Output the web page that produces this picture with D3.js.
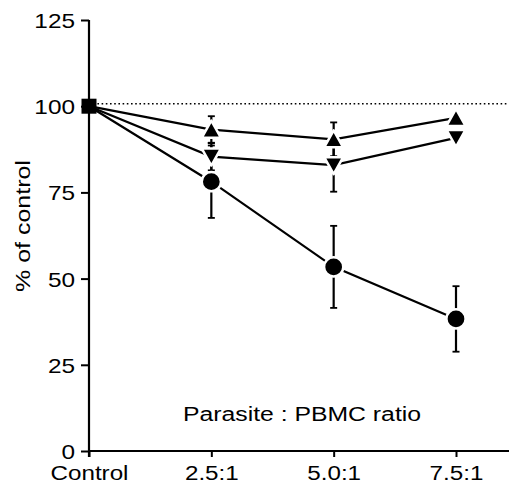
<!DOCTYPE html>
<html>
<head>
<meta charset="utf-8">
<script src="https://cdn.jsdelivr.net/npm/d3@7"></script>
<style>
  body { margin: 0; background: #fff; }
  svg text { font-family: "Liberation Sans", Arial, sans-serif; fill: #000; }
</style>
</head>
<body>
<script>
// ratios on the x axis
const categories = ["Control", "2.5:1", "5.0:1", "7.5:1"]
const yTicks = [0, 25, 50, 75, 100, 125]
const refLine = 100.7

// % of control for each marker series, plus error bar half-widths
const circleVals = [100, 78.1, 53.4, 38.3]
const circleErr  = [0, 10.5, 11.9, 9.5]
const upVals     = [100, 93.2, 90.4, 96.6]
const upErr      = [0, 3.9, 4.9, 0]
const downVals   = [100, 85.4, 82.9, 90.8]
const downErr    = [0, 4.0, 7.7, 0]

const width = 509, height = 484

const svg = d3.select('body').append('svg')
    .attr('width', width)
    .attr('height', height)

// the original type is a wide face, so stretch the text a bit
function widen(sel, k) {
    sel.each(function() {
        const w = this.getComputedTextLength()
        d3.select(this).attr('textLength', w * k).attr('lengthAdjust', 'spacingAndGlyphs')
    })
}

const xScale = d3.scalePoint()
    .domain(categories)
    .range([89, 456])

const yScale = d3.scaleLinear()
    .domain([0, 125])
    .range([451, 20])

// dotted 100% line
svg.append('line')
    .attr('x1', xScale('Control')).attr('x2', width)
    .attr('y1', yScale(refLine)).attr('y2', yScale(refLine))
    .attr('stroke', '#000')
    .attr('stroke-width', 1.6)
    .attr('stroke-dasharray', '1.6,2.6')

// y axis
const yAxis = svg.append('g')
    .attr('transform', 'translate(' + xScale('Control') + ',0)')
    .call(d3.axisLeft(yScale).tickValues(yTicks).tickSize(8).tickSizeOuter(0).tickPadding(6))
yAxis.select('.domain').remove()
yAxis.selectAll('line').attr('stroke-width', 2)
yAxis.selectAll('text').attr('font-size', '21px').attr('dy', '0.36em').call(widen, 1.16)
yAxis.append('line')
    .attr('y1', yScale(125)).attr('y2', yScale(0) + 6)
    .attr('stroke', '#000').attr('stroke-width', 2.2)

// x axis
const xAxis = svg.append('g')
    .attr('transform', 'translate(0,' + yScale(0) + ')')
    .call(d3.axisBottom(xScale).tickSize(6).tickSizeOuter(0))
xAxis.select('.domain').remove()
xAxis.append('line')
    .attr('x1', xScale('Control')).attr('x2', width)
    .attr('stroke', '#000').attr('stroke-width', 2.2)
xAxis.selectAll('.tick line').attr('stroke-width', 2)
xAxis.selectAll('text').attr('font-size', '19.5px').attr('y', 29).attr('dy', 0).call(widen, 1.24)

// axis titles
svg.append('text')
    .attr('transform', 'translate(30,226) rotate(-90)')
    .attr('text-anchor', 'middle')
    .attr('font-size', '19.5px')
    .text('% of control')
    .call(widen, 1.28)

svg.append('text')
    .attr('x', 302).attr('y', 421)
    .attr('text-anchor', 'middle')
    .attr('font-size', '19.5px')
    .text('Parasite : PBMC ratio')
    .call(widen, 1.27)

const series = [
    {vals: circleVals, err: circleErr, shape: 'circle'},
    {vals: downVals, err: downErr, shape: 'down'},
    {vals: upVals, err: upErr, shape: 'up'}
]

function pts(s) {
    return categories.map((c, i) => ({x: xScale(c), y: yScale(s.vals[i]), v: s.vals[i], e: s.err[i]}))
}

// connecting lines
const line = d3.line().x(d => d.x).y(d => d.y)
series.forEach(s => {
    svg.append('path')
        .attr('d', line(pts(s)))
        .attr('fill', 'none')
        .attr('stroke', '#000')
        .attr('stroke-width', 2.2)
})

// error bars
series.forEach(s => {
    pts(s).filter(d => d.e > 0).forEach(d => {
        const g = svg.append('g').attr('stroke', '#000')
        const top = yScale(d.v + d.e), bot = yScale(d.v - d.e)
        g.append('line').attr('x1', d.x).attr('x2', d.x).attr('y1', top).attr('y2', bot).attr('stroke-width', 2.2)
        g.append('line').attr('x1', d.x - 3.5).attr('x2', d.x + 3.5).attr('y1', top).attr('y2', top).attr('stroke-width', 1.8)
        g.append('line').attr('x1', d.x - 3.5).attr('x2', d.x + 3.5).attr('y1', bot).attr('y2', bot).attr('stroke-width', 1.8)
    })
})

// markers (skip the shared control point; drawn as a square)
function markerPath(shape, x, y) {
    if (shape === 'up') return `M${x},${y - 9}L${x + 9.5},${y + 8}L${x - 9.5},${y + 8}Z`
    if (shape === 'down') return `M${x},${y + 9}L${x + 9.5},${y - 8}L${x - 9.5},${y - 8}Z`
    return null
}
series.forEach(s => {
    pts(s).slice(1).forEach(d => {
        if (s.shape === 'circle') {
            svg.append('circle')
                .attr('cx', d.x).attr('cy', d.y).attr('r', 9.6)
                .attr('fill', '#000').attr('stroke', '#fff').attr('stroke-width', 2.5)
        } else {
            svg.append('path')
                .attr('d', markerPath(s.shape, d.x, d.y))
                .attr('fill', '#000').attr('stroke', '#fff').attr('stroke-width', 2.5)
                .attr('stroke-linejoin', 'round')
        }
    })
})

svg.append('rect')
    .attr('x', xScale('Control') - 7.5).attr('y', yScale(100) - 7.5)
    .attr('width', 15).attr('height', 15)
    .attr('fill', '#000')
</script>
</body>
</html>
